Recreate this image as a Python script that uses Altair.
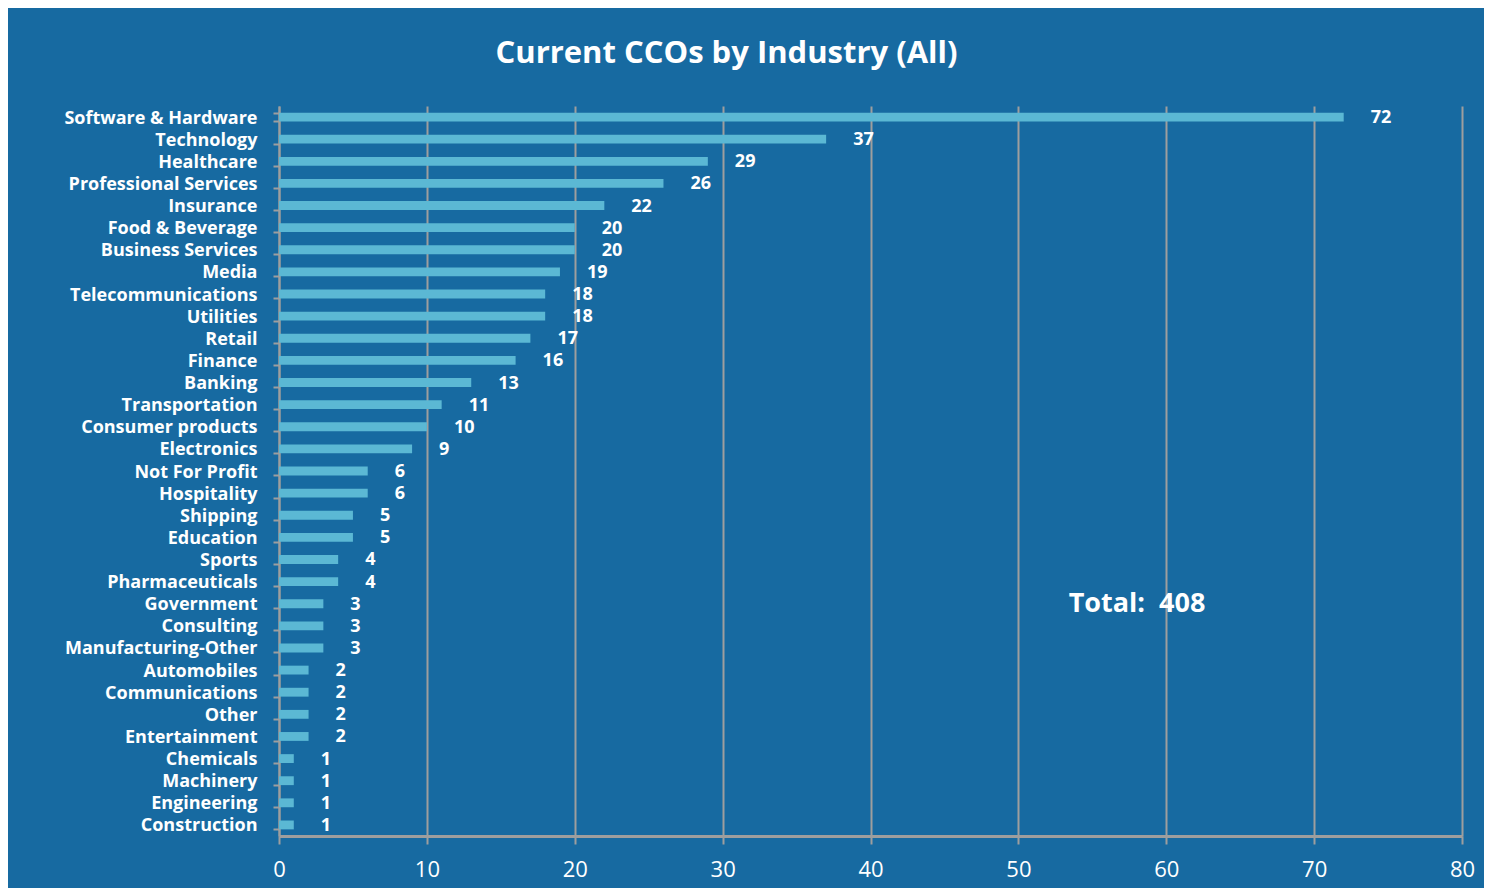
import altair as alt
import pandas as pd

industries = ["Software & Hardware", "Technology", "Healthcare", "Professional Services",
              "Insurance", "Food & Beverage", "Business Services", "Media",
              "Telecommunications", "Utilities", "Retail", "Finance", "Banking",
              "Transportation", "Consumer products", "Electronics", "Not For Profit",
              "Hospitality", "Shipping", "Education", "Sports", "Pharmaceuticals",
              "Government", "Consulting", "Manufacturing-Other", "Automobiles",
              "Communications", "Other", "Entertainment", "Chemicals", "Machinery",
              "Engineering", "Construction"]
counts = [72, 37, 29, 26, 22, 20, 20, 19, 18, 18, 17, 16, 13, 11, 10, 9, 6, 6, 5, 5,
          4, 4, 3, 3, 3, 2, 2, 2, 2, 1, 1, 1, 1]
x_ticks = [0, 10, 20, 30, 40, 50, 60, 70, 80]
total_label = "Total:\u00a0\u00a0408"
total_x = 53.4
total_row = "Government"

BG = "#176AA1"
BAR = "#5BB8D4"
GRID = "#9E9E9E"
FONT = "Open Sans"

df = pd.DataFrame({"industry": industries, "count": counts})
ann = pd.DataFrame({"x": [total_x], "industry": [total_row], "label": [total_label]})

yscale = alt.Scale(domain=industries, paddingInner=0.6, paddingOuter=0.3)
xscale = alt.Scale(domain=[0, 80], nice=False)

bars = alt.Chart(df).mark_bar(color=BAR).encode(
    x=alt.X("count:Q", scale=xscale,
            axis=alt.Axis(values=x_ticks, title=None, grid=True, gridColor=GRID, gridWidth=2,
                          domainColor=GRID, domainWidth=3, tickColor=GRID, tickWidth=2,
                          tickSize=8, labelPadding=15, labelColor="white", labelFont=FONT,
                          labelFontSize=22, labelFontWeight="normal", labelFlush=False)),
    y=alt.Y("industry:N", scale=yscale, sort=industries,
            axis=alt.Axis(title=None, tickBand="extent", domainColor=GRID, domainWidth=2,
                          tickColor=GRID, tickWidth=2, tickSize=6, labelPadding=16,
                          labelColor="white", labelFont=FONT, labelFontSize=18,
                          labelFontWeight="bold", labelLimit=400, labelOffset=1)),
)

labels = alt.Chart(df).mark_text(align="left", baseline="middle", dx=27, dy=1, color="white",
                                 font=FONT, fontSize=18, fontWeight="bold").encode(
    x=alt.X("count:Q", scale=xscale),
    y=alt.Y("industry:N", scale=yscale, sort=industries),
    text="count:Q",
)

total = alt.Chart(ann).mark_text(align="left", baseline="middle", color="white",
                                 font=FONT, fontSize=27, fontWeight="bold").encode(
    x=alt.X("x:Q", scale=xscale),
    y=alt.Y("industry:N", scale=yscale, sort=industries),
    text="label:N",
)

chart = alt.layer(bars, labels, total).properties(
    width=1183, height=730,
    background=BG,
    padding={"left": 271, "top": 98, "right": 22, "bottom": 52},
    autosize=alt.AutoSizeParams(type="none"),
    title=alt.TitleParams("Current CCOs by Industry (All)", color="white", font=FONT,
                          fontSize=31, fontWeight="bold", anchor="middle", dx=-144, offset=27),
).configure_view(stroke=None)

chart.save("out.html", embed_options={"renderer": "svg", "actions": False})
